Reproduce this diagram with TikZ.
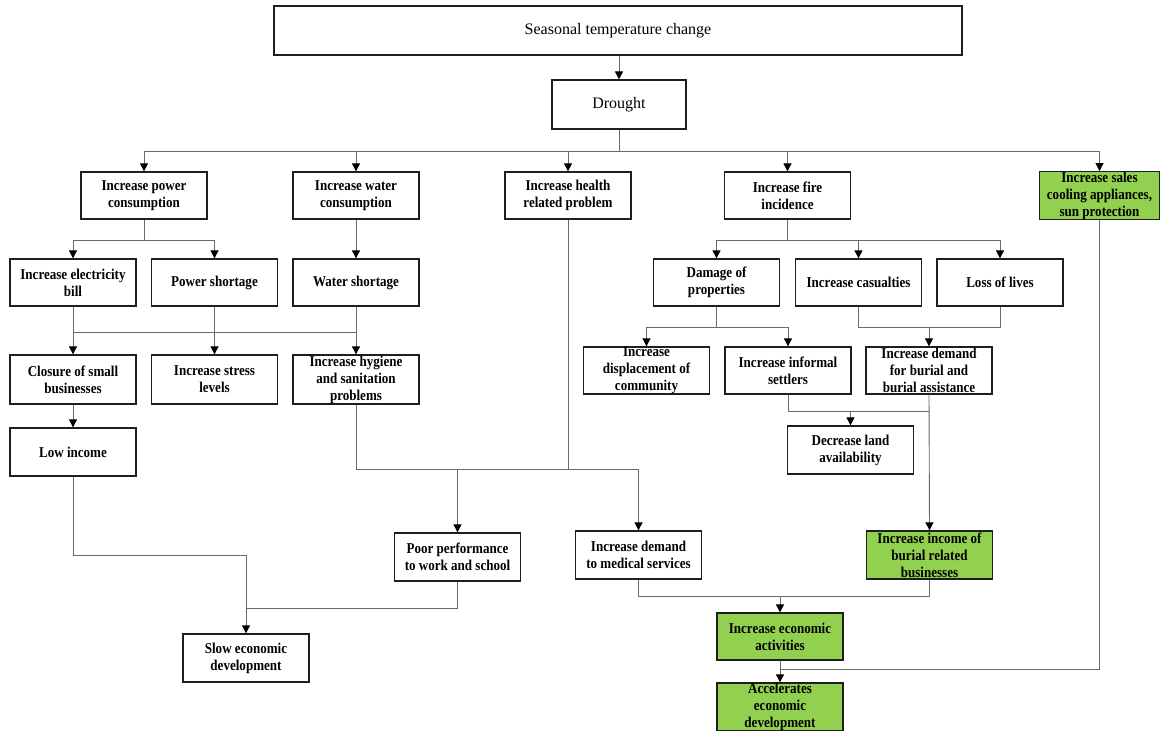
\documentclass[tikz,border=0pt]{standalone}
\usepackage{fontspec}
\setmainfont{Liberation Serif}
\newfontfamily\boxfont{Liberation Serif}[FakeStretch=0.87]
\usetikzlibrary{arrows.meta}
\definecolor{leaf}{HTML}{92D050}
\definecolor{wire}{RGB}{105,105,105}
\definecolor{edge}{RGB}{30,30,30}
\begin{document}
\begin{tikzpicture}[x=1pt,y=-1pt,
  bx/.style={draw=edge,line width=1.3pt,rectangle,minimum width=126pt,minimum height=47pt,
    inner sep=0pt,align=center,font=\boxfont\bfseries\fontsize{15}{17}\selectfont},
  plainbox/.style={draw=edge,line width=1.3pt,rectangle,inner sep=0pt,align=center,
    font=\fontsize{16}{19}\selectfont},
  good/.style={bx,fill=leaf},
  ln/.style={draw=wire,line width=0.9pt},
  arr/.style={ln,-{Triangle[length=8pt,width=8pt,color=black]}}]
\useasboundingbox (0,0) rectangle (1160,731);

% top of the chain
\node[plainbox,minimum width=688pt,minimum height=49pt] (top) at (618,30.5) {Seasonal temperature change};
\node[plainbox,minimum width=134pt,minimum height=49pt] (drought) at (619,104.5) {Drought};

% first level of effects
\node[bx] (pwr)  at (144,195.5)   {Increase power\\consumption};
\node[bx] (wat)  at (356,195.5)   {Increase water\\consumption};
\node[bx] (hlth) at (568,195.5)   {Increase health\\related problem};
\node[bx] (fire) at (787.5,195.5) {Increase fire\\incidence};
\node[good,minimum width=120pt] (sales) at (1099.5,195.5) {Increase sales\\cooling appliances,\\sun protection};

% second level
\node[bx] (bill)   at (73,282.5)    {Increase electricity\\bill};
\node[bx] (pshort) at (214.5,282.5) {Power shortage};
\node[bx] (wshort) at (356,282.5)   {Water shortage};
\node[bx] (dmg)    at (716.5,282.5) {Damage of\\properties};
\node[bx] (cas)    at (858.5,282.5) {Increase casualties};
\node[bx] (loss)   at (1000,282.5)  {Loss of lives};

% third level
\node[bx,minimum height=49pt] (closure) at (73,379.5)    {Closure of small\\businesses};
\node[bx,minimum height=49pt] (stress)  at (214.5,379.5) {Increase stress\\levels};
\node[bx,minimum height=49pt] (hyg)     at (356,379.5)   {Increase hygiene\\and sanitation\\problems};
\node[bx] (disp) at (646.5,370.5) {Increase\\displacement of\\community};
\node[bx] (inf)  at (788,370.5)   {Increase informal\\settlers};
\node[bx] (bur)  at (929,370.5)   {Increase demand\\for burial and\\burial assistance};

% fourth level
\node[bx,minimum height=48pt] (low)  at (73,452)    {Low income};
\node[bx,minimum height=48pt] (land) at (850.5,450) {Decrease land\\availability};

% fifth level
\node[bx,minimum height=48pt] (poor) at (457.5,557) {Poor performance\\to work and school};
\node[bx,minimum height=48pt] (med)  at (638.5,555) {Increase demand\\to medical services};
\node[good,minimum height=48pt] (inc) at (929.5,555) {Increase income of\\burial related\\businesses};

% outcomes
\node[bx,minimum height=48pt] (slow) at (246,658)  {Slow economic\\development};
\node[good] (econ) at (780,636.5) {Increase economic\\activities};
\node[good,minimum height=48pt] (acc) at (780,707) {Accelerates\\economic\\development};

% bus levels
\coordinate (b1) at (0,151);
\coordinate (b2) at (0,240);
\coordinate (b3) at (0,332);
\coordinate (b4) at (0,327);
\coordinate (b5) at (0,411);
\coordinate (b6) at (0,469);
\coordinate (b7) at (0,555);
\coordinate (b8) at (0,608);
\coordinate (b9) at (0,596);
\coordinate (b10) at (0,669);

% connectors
\draw[arr] (top.south -| drought.north) -- (drought.north);
\foreach \t in {pwr,wat,hlth,fire,sales}
  \draw[arr] (drought.south) -- (drought.south |- b1) -| (\t.north);

\foreach \t in {bill,pshort}
  \draw[arr] (pwr.south) -- (pwr.south |- b2) -| (\t.north);
\draw[arr] (wat.south) -- (wshort.north);
\foreach \t in {dmg,cas,loss}
  \draw[arr] (fire.south) -- (fire.south |- b2) -| (\t.north);

\draw[ln] (bill.south |- b3) -- (wshort.south |- b3);
\draw[arr] (bill.south) -- (closure.north);
\draw[arr] (pshort.south) -- (stress.north);
\draw[arr] (wshort.south) -- (hyg.north);

\foreach \t in {disp,inf}
  \draw[arr] (dmg.south) -- (dmg.south |- b4) -| (\t.north);
\draw[ln] (cas.south) -- (cas.south |- b4) -- (loss.south |- b4) -- (loss.south);
\draw[arr] (bur.north |- b4) -- (bur.north);

\draw[arr] (closure.south) -- (low.north);

\draw[arr] (inf.south) -- (inf.south |- b5) -| (land.north);
\draw[ln] (land.north |- b5) -- (bur.south |- b5);
\draw[arr] (bur.south) -- (inc.north);

\draw[arr] (hyg.south) -- (hyg.south |- b6) -| (poor.north);
\draw[arr] (hlth.south) -- (hlth.south |- b6) -| (med.north);
\draw[ln] (poor.north |- b6) -- (hlth.south |- b6);

\draw[arr] (low.south) -- (low.south |- b7) -| (slow.north);
\draw[ln] (poor.south) |- (slow.north |- b8);

\draw[ln] (med.south) -- (med.south |- b9) -- (inc.south |- b9) -- (inc.south);
\draw[arr] (econ.north |- b9) -- (econ.north);

\draw[arr] (econ.south) -- (acc.north);
\draw[ln] (sales.south) |- (econ.south |- b10);
\end{tikzpicture}
\end{document}
